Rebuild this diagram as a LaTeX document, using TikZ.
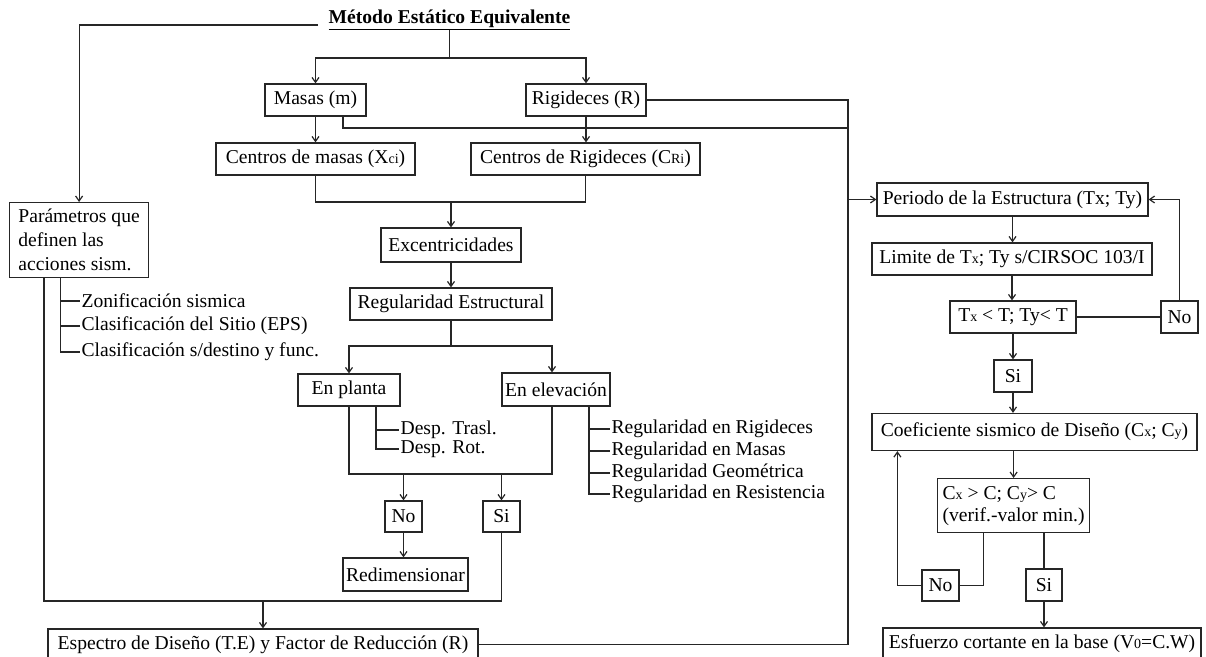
\documentclass[tikz,border=0pt]{standalone}
\usepackage{fontspec}
\setmainfont{Liberation Serif}
\usetikzlibrary{arrows.meta}
% smaller letters used for indices such as Xci, CRi, Cx, V0
\newcommand\smallpart[1]{{\fontsize{14}{16}\selectfont #1}}
\begin{document}
\begin{tikzpicture}[x=1pt,y=-1pt,
  font=\fontsize{19.6}{24}\selectfont,
  line width=1.2pt, draw=black!85,
  box/.style={draw, inner sep=0pt, anchor=center},
  item/.style={anchor=west, inner xsep=1pt, inner ysep=0pt},
  flow/.style={-{Straight Barb[length=5pt,width=7pt]}}]
\useasboundingbox (0,0) rectangle (1206,656);

% ---------- title ----------
\node[inner xsep=10pt, inner ysep=0pt, font=\fontsize{19.6}{24}\selectfont\bfseries] (title) at (449.5,20) {\underline{Método Estático Equivalente}};

% ---------- central column ----------
\node[box, minimum width=101pt, minimum height=32pt] (masas) at (315.5,100) {Masas (m)};
\node[box, minimum width=120pt, minimum height=32pt] (rig) at (586,100) {Rigideces (R)};
\node[box, minimum width=199pt, minimum height=32pt] (cm) at (315.5,159) {Centros de masas (X\smallpart{ci})};
\node[box, minimum width=229pt, minimum height=32pt] (cr) at (585.5,159) {Centros de Rigideces (C\smallpart{Ri})};
\node[box, minimum width=140pt, minimum height=34pt] (exc) at (451,245) {Excentricidades};
\node[box, minimum width=202pt, minimum height=32pt] (reg) at (451,304) {Regularidad Estructural};
\node[box, minimum width=102pt, minimum height=32pt] (planta) at (349,390) {En planta};
\node[box, minimum width=108pt, minimum height=33pt] (elev) at (556,389.5) {En elevación};
\node[box, minimum width=37pt, minimum height=31pt] (no1) at (403.5,516.5) {No};
\node[box, minimum width=37pt, minimum height=31pt] (si1) at (501.5,516.5) {Si};
\node[box, minimum width=125pt, minimum height=33pt] (redim) at (405.5,574.5) {Redimensionar};

% ---------- left column ----------
\node[box, anchor=north west, minimum width=139pt, minimum height=75pt, align=left] (par) at (9,202) {Parámetros que\\definen las\\acciones sism.};
\node[box, minimum width=430pt, minimum height=31pt] (esp) at (263,644.5) {Espectro de Diseño (T.E) y Factor de Reducción (R)};

% sub-items of the seismic parameters
\node[item] (z1) at (80,301) {Zonificación sismica};
\node[item] (z2) at (80,326) {Clasificación del Sitio (EPS)};
\node[item] (z3) at (80,352) {Clasificación s/destino y func.};

% sub-items of the plan regularity
\node[item] (d1) at (399,430) {Desp. Trasl.};
\node[item] (d2) at (399,449) {Desp. Rot.};

% sub-items of the elevation regularity
\node[item] (e1) at (610,429) {Regularidad en Rigideces};
\node[item] (e2) at (610,451) {Regularidad en Masas};
\node[item] (e3) at (610,473) {Regularidad Geométrica};
\node[item] (e4) at (610,494) {Regularidad en Resistencia};

% ---------- right column ----------
\node[box, minimum width=271pt, minimum height=33pt] (per) at (1012.5,199.5) {Periodo de la Estructura (Tx; Ty)};
\node[box, minimum width=280pt, minimum height=32pt] (lim) at (1012,259) {Limite de T\smallpart{x}; Ty s/CIRSOC 103/I};
\node[box, minimum width=126pt, minimum height=32pt] (tx) at (1013,317) {T\smallpart{x} < T; Ty< T};
\node[box, minimum width=37pt, minimum height=32pt] (no2) at (1179.5,317) {No};
\node[box, minimum width=38pt, minimum height=32pt] (si2) at (1013,376) {Si};
\node[box, minimum width=325pt, minimum height=37pt] (coef) at (1034.5,432) {Coeficiente sismico de Diseño (C\smallpart{x}; C\smallpart{y})};
\node[box, anchor=north west, minimum width=152pt, minimum height=54pt, align=left, font=\fontsize{19.6}{22}\selectfont] (cx) at (937,478) {C\smallpart{x} > C; C\smallpart{y}> C\\(verif.-valor min.)};
\node[box, minimum width=37pt, minimum height=31pt] (no3) at (940.5,585.5) {No};
\node[box, minimum width=36pt, minimum height=32pt] (si3) at (1044,585) {Si};
\node[box, minimum width=318pt, minimum height=32pt] (esf) at (1042,644) {Esfuerzo cortante en la base (V\smallpart{0}=C.W)};

% ---------- junction points ----------
\coordinate (split1) at (449.5,58);
\coordinate (join1) at (451,202);
\coordinate (split2) at (451,346);
\coordinate (loopR) at (552,474);
\coordinate (busL) at (44,601);
\coordinate (busTop) at (848,100);
\coordinate (busMid) at (848,128);
\coordinate (spineP) at ([xshift=27pt]planta.south);
\coordinate (spineE) at ([xshift=33pt]elev.south);
\coordinate (spineZ) at ([xshift=-18.5pt]par.south);

% ---------- connectors ----------
\draw[flow] ([yshift=-5pt]title.west) -| (par.north);
\draw (title.south) -- (split1);
\draw[flow] (split1) -| (masas.north);
\draw[flow] (split1) -| (rig.north);

\draw[flow] (masas.south) -- (masas.south |- cm.north);
\draw[flow] (rig.south) -- (rig.south |- cr.north);
\draw (cm.south) |- (join1) -| (cr.south);
\draw[flow] (join1) -- (exc.north);
\draw[flow] (exc.south) -- (reg.north);
\draw (reg.south) -- (split2);
\draw[flow] (split2) -| (planta.north);
\draw[flow] (split2) -| ([xshift=-4pt]elev.north);

% plan / elevation checks meet and split into No / Si
\draw (planta.south) |- (loopR) -- ([xshift=-4pt]elev.south);
\draw[flow] (no1.north |- loopR) -- (no1.north);
\draw[flow] (si1.north |- loopR) -- (si1.north);
\draw[flow] (no1.south) -- (no1.south |- redim.north);

% branches of the lists
\draw (spineP) |- (d2.west);
\draw (d1.west -| spineP) -- (d1.west);
\draw (spineE) |- (e4.west);
\foreach \e in {e1,e2,e3}
  \draw (\e.west -| spineE) -- (\e.west);
\draw (spineZ) |- (z3.west);
\foreach \z in {z1,z2}
  \draw (\z.west -| spineZ) -- (\z.west);

% collecting line towards the design spectrum
\draw (si1.south) |- (busL) -- (busL |- par.south);
\draw[flow] (esp.north |- busL) -- (esp.north);

% line feeding the period of the structure
\draw ([xshift=27.5pt]masas.south) |- (busMid);
\draw (rig.east) -- (busTop) -- (esp.east -| busTop) -- (esp.east);
\draw[flow] (per.west -| busTop) -- (per.west);

% right column
\draw[flow] (per.south) -- (per.south |- lim.north);
\draw[flow] (lim.south) -- (lim.south |- tx.north);
\draw (tx.east) -- (no2.west);
\draw[flow] (no2.north) |- (per.east);
\draw[flow] (tx.south) -- (si2.north);
\draw[flow] (si2.south) -- (si2.south |- coef.north);
\draw[flow] (cx.north |- coef.south) -- (cx.north);
\draw ([xshift=-30pt]cx.south) |- (no3.east);
\draw[flow] (no3.west) -| ([xshift=26pt]coef.south west);
\draw (si3.north |- cx.south) -- (si3.north);
\draw[flow] (si3.south) -- (si3.south |- esf.north);
\end{tikzpicture}
\end{document}
